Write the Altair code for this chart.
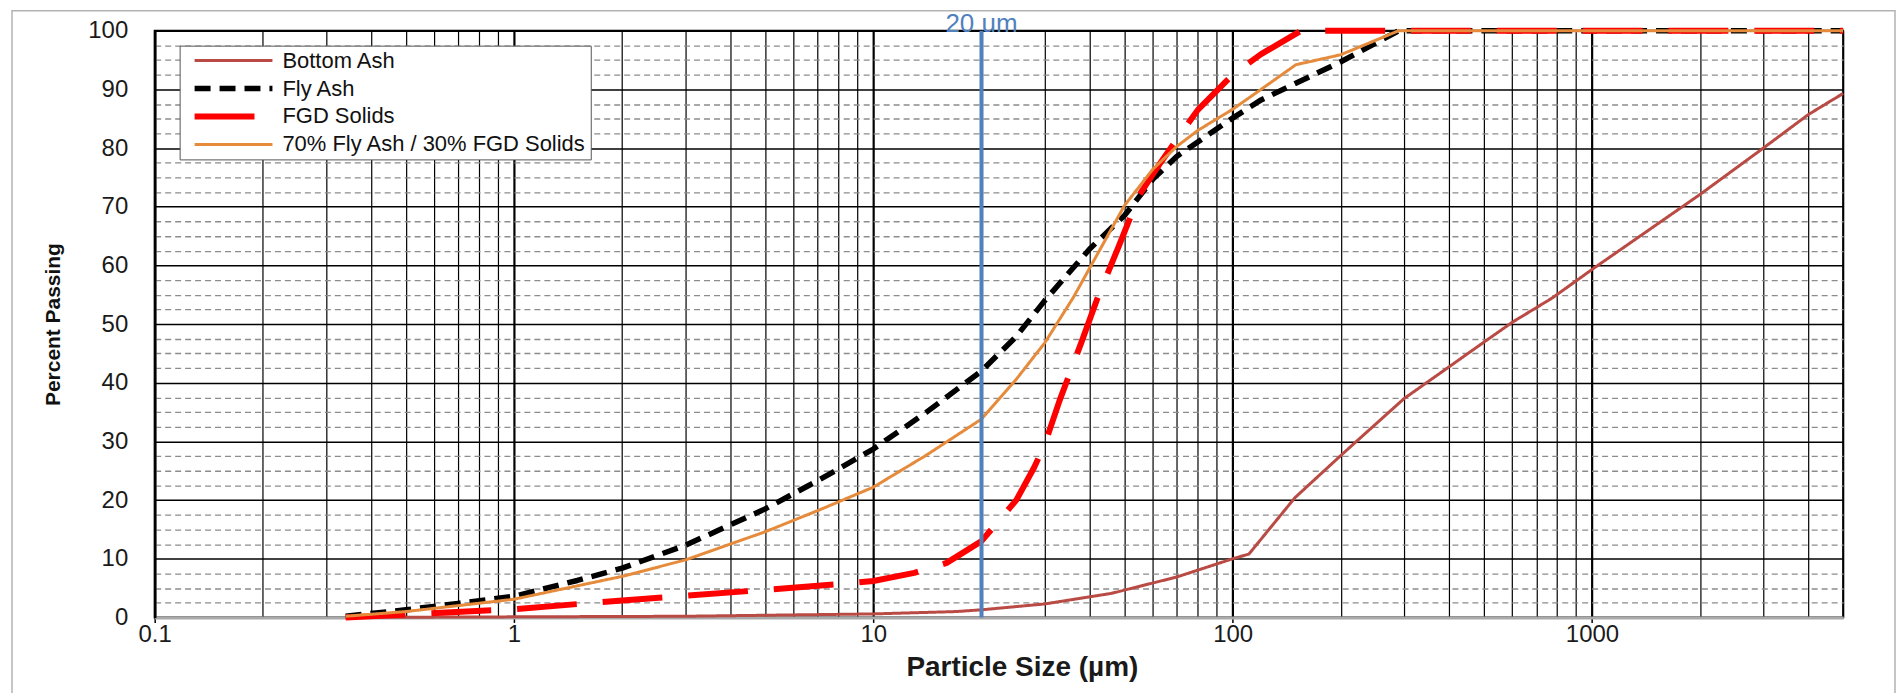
import altair as alt
import pandas as pd

# ---------------- data ----------------
series_names = ["Bottom Ash", "Fly Ash", "FGD Solids", "70% Fly Ash / 30% FGD Solids"]
series_colors = ["#b94a44", "#000000", "#ff0000", "#e58b3b"]
series_dashes = [[1, 0], [16, 9], [60, 26], [1, 0]]
series_widths = [3, 5.5, 6, 3]

bottom_x = [0.34, 1, 3, 10, 17, 20, 30, 46, 70, 100, 111, 149, 200, 300, 400, 500, 600, 778, 1000, 2000, 3000, 4000, 5000]
bottom_y = [0, 0.1, 0.2, 0.6, 1.0, 1.3, 2.3, 4.1, 6.9, 10.0, 10.8, 20.4, 27.6, 37.3, 42.7, 46.9, 50.3, 54.5, 59.3, 72.1, 80.0, 85.7, 89.3]

fly_x = [0.34, 0.5, 0.7, 1, 1.5, 2, 3, 5, 7, 10, 14, 20, 25, 30, 40, 50, 60, 70, 90, 100, 120, 200, 290, 5000]
fly_y = [0.2, 1.3, 2.4, 3.6, 6.3, 8.4, 12.3, 18.5, 23.3, 28.7, 34.9, 42.0, 47.9, 54.0, 62.8, 68.5, 74.7, 78.6, 83.2, 85.1, 88.2, 94.7, 100, 100]

fgd_x = [0.34, 0.5, 1, 2, 3, 5, 7, 10, 13, 16, 20, 25, 28, 30, 33, 38, 42, 48, 55, 63, 70, 80, 100, 120, 155, 5000]
fgd_y = [0, 0.5, 1.4, 2.9, 3.7, 4.7, 5.4, 6.2, 7.6, 9.3, 13.0, 20.0, 25.5, 29.5, 37.0, 47.0, 54.3, 63.0, 72.0, 77.5, 81.5, 86.5, 92.5, 96.0, 100, 100]

mix_x = [0.34, 0.5, 1, 2, 3, 5, 7, 10, 14, 20, 25, 30, 36, 50, 60, 70, 80, 100, 120, 150, 200, 290, 5000]
mix_y = [0.2, 1.0, 3.1, 7.0, 9.8, 14.6, 18.2, 22.2, 27.6, 33.8, 40.6, 46.8, 54.5, 70.2, 76.4, 80.3, 83.0, 86.6, 90.0, 94.2, 95.9, 100, 100]

marker_size = [20]
marker_label = ["20 um"]

x_tick_values = [round(m * 10 ** k, 6) for k in range(-1, 3) for m in range(1, 10)] + [1000, 2000, 3000, 4000, 5000]
y_tick_values = [i * 2.5 for i in range(41)]

# ---------------- table ----------------
rows = []
for name, xs, ys in zip(series_names, [bottom_x, fly_x, fgd_x, mix_x], [bottom_y, fly_y, fgd_y, mix_y]):
    for i, (xv, yv) in enumerate(zip(xs, ys)):
        rows.append({"series": name, "size": xv, "passing": yv, "order": i})
df = pd.DataFrame(rows)
marker_df = pd.DataFrame({"size": marker_size, "label": marker_label})

FONT = "Liberation Sans, Arial, sans-serif"
NARROW = "'Liberation Sans Narrow', 'Arial Narrow', 'Liberation Sans', sans-serif"

dec = "abs(log(datum.value)/LN10 - round(log(datum.value)/LN10)) < 0.001"

x_axis = alt.Axis(
    values=x_tick_values,
    format="~g",
    labelExpr=f"({dec}) ? datum.label : ''",
    labelOverlap=False,
    labelFlush=False,
    labelFont=FONT,
    labelFontSize=24,
    labelColor="#1a1a1a",
    labelPadding=0,
    grid=True,
    gridColor="#000000",
    gridOpacity=1,
    gridWidth={"condition": {"test": dec, "value": 2.2}, "value": 1.2},
    ticks=True,
    tickSize=5,
    tickWidth=1.5,
    tickColor={"condition": {"test": dec, "value": "#000000"}, "value": "transparent"},
    domain=True,
    domainColor="#aaaaaa",
    domainWidth=3,
    title="Particle Size (µm)",
    titleFont=FONT,
    titleFontSize=28,
    titleFontWeight="bold",
    titleColor="#1a1a1a",
    titlePadding=7,
    titleX=869,
    titleAlign="center",
)

y_axis = alt.Axis(
    values=y_tick_values,
    format="d",
    labelExpr="datum.value % 10 == 0 ? datum.label : ''",
    labelOverlap=False,
    labelFont=FONT,
    labelFontSize=24,
    labelColor="#1a1a1a",
    labelPadding=27,
    ticks=False,
    grid=True,
    gridOpacity=1,
    gridColor={"condition": {"test": "datum.value % 10 == 0 && datum.value > 0", "value": "#000000"}, "value": "#8c8c8c"},
    gridDash={"condition": {"test": "datum.value % 10 == 0", "value": []}, "value": [6, 4]},
    gridWidth={"condition": {"test": "datum.value % 10 == 0", "value": 1.5}, "value": 1.3},
    domain=True,
    domainColor="#000000",
    domainWidth=2.5,
    title="Percent Passing",
    titleFont=NARROW,
    titleFontSize=21,
    titleFontWeight="bold",
    titleColor="#111111",
    titlePadding=24,
)

legend = alt.Legend(
    title=None,
    orient="none",
    legendX=25,
    legendY=15,
    symbolType="stroke",
    symbolSize=6084,
    symbolOffset=8,
    labelOffset=7,
    labelFont=FONT,
    labelFontSize=22,
    labelColor="#111111",
    labelLimit=0,
    clipHeight=22,
    fillColor="white",
    strokeColor="#555555",
    padding=4,
    rowPadding=6,
)

x_scale = alt.Scale(type="log", domain=[0.1, 5000], nice=False)
y_scale = alt.Scale(domain=[0, 100], nice=False)

frame = alt.Chart(pd.DataFrame({"k": [0]})).mark_rect(
    fill="transparent", stroke="#b3b3b3", strokeWidth=1.5
).encode(x=alt.value(-143), x2=alt.value(1744), y=alt.value(-20), y2=alt.value(720))

lines = alt.Chart(df).mark_line(strokeCap="butt", strokeJoin="round").encode(
    x=alt.X("size:Q", scale=x_scale, axis=x_axis),
    y=alt.Y("passing:Q", scale=y_scale, axis=y_axis),
    order="order:Q",
    color=alt.Color("series:N", scale=alt.Scale(domain=series_names, range=series_colors), legend=legend),
    strokeDash=alt.StrokeDash("series:N", scale=alt.Scale(domain=series_names, range=series_dashes), legend=legend),
    strokeWidth=alt.StrokeWidth("series:N", scale=alt.Scale(type="ordinal", domain=series_names, range=series_widths), legend=legend),
)

rule = alt.Chart(marker_df).mark_rule(color="#4f81bd", strokeWidth=4).encode(
    x=alt.X("size:Q", scale=x_scale)
)

label = alt.Chart(marker_df).mark_text(
    color="#4f81bd", font=FONT, fontSize=26, align="center", baseline="alphabetic"
).encode(x=alt.X("size:Q", scale=x_scale), y=alt.value(1), text="label:N")

chart = alt.layer(frame, lines, rule, label).properties(
    width=1692,
    height=588,
    padding={"left": 147, "top": 22, "right": 53, "bottom": 75},
    autosize=alt.AutoSizeParams(type="none"),
).configure_view(stroke="#000000", strokeWidth=2)

chart.save("out.html", embed_options={"renderer": "svg", "actions": False})
